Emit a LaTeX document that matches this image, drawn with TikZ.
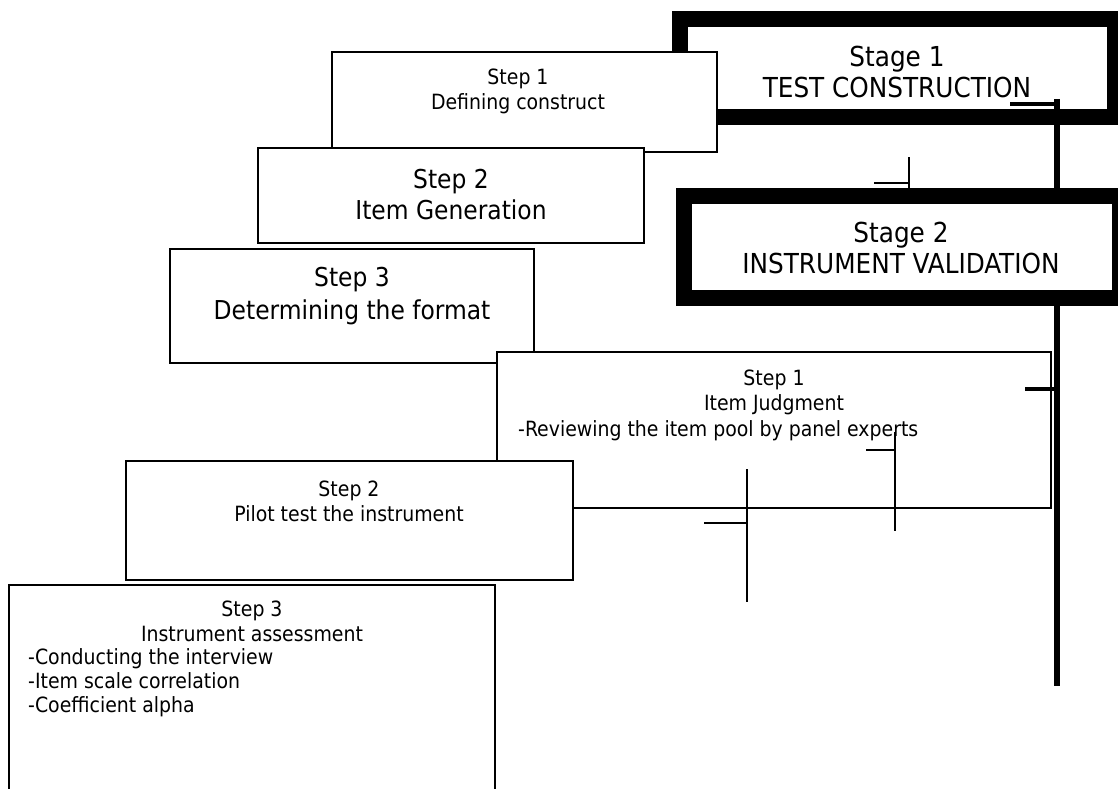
\documentclass[tikz,border=0pt]{standalone}
\usepackage{fontspec}
\setmainfont{DejaVu Sans Condensed}
\begin{document}
\begin{tikzpicture}[x=1pt,y=-1pt,
  box/.style={draw, fill=white, line width=2pt, inner sep=0pt, outer sep=0pt, rectangle},
  stagebox/.style={draw, fill=white, line width=16pt, inner sep=0pt, outer sep=0pt, rectangle},
  bigtxt/.style={font=\fontsize{26}{31}\selectfont, align=center, inner sep=0pt},
  stagetxt/.style={font=\fontsize{27.5}{31.5}\selectfont, align=center, inner sep=0pt},
  smalltxt/.style={font=\fontsize{21}{25}\selectfont, align=center, inner sep=0pt},
  leftlist/.style={font=\fontsize{21}{24}\selectfont, align=left, inner sep=0pt, anchor=west},
  thinline/.style={line width=1.8pt},
  thickline/.style={line width=6pt},
  tickline/.style={line width=4.5pt}]
\useasboundingbox (0,0) rectangle (1118,789);

% Stage 1
\node[stagebox, minimum width=435pt, minimum height=97.5pt] (st1) at (897.5,68.25) {};
\node[stagetxt] (st1t) at (897,72) {Stage 1\\TEST CONSTRUCTION};

% thick trunk
\coordinate (vtop) at (1057,99);
\coordinate (vbot) at (1057,686);
\draw[thickline] (vtop) -- (vbot);
\coordinate (h1) at (1010,104);
\draw[line width=4pt] (h1) -- (h1 -| vtop);

% small fragment above stage 2
\coordinate (f1a) at (909,157);
\coordinate (f1b) at (909,188);
\coordinate (f1c) at (874,183);
\draw[thinline] (f1a) -- (f1b);
\draw[thinline] (f1c) -- (f1c -| f1a);

% Stage 2
\node[stagebox, minimum width=436pt, minimum height=101.5pt] (st2) at (902,246.75) {};
\node[stagetxt] (st2t) at (901,248) {Stage 2\\INSTRUMENT VALIDATION};

% Stage 1 steps
\node[box, minimum width=385pt, minimum height=100pt] (s1) at (524.5,102) {};
\node[smalltxt] (s1t) at (518,91) {Step 1\\Defining construct};

\node[box, minimum width=386pt, minimum height=95pt] (s2) at (451,195.5) {};
\node[bigtxt] (s2t) at (451,195) {Step 2\\Item Generation};

\node[box, minimum width=364pt, minimum height=114pt] (s3) at (352,306) {};
\node[bigtxt, font=\fontsize{26}{33}\selectfont] (s3t) at (352,296) {Step 3\\Determining the format};

% Stage 2 steps
\node[box, minimum width=554pt, minimum height=156pt] (j) at (774,430) {};
\node[smalltxt] (jt) at (774,392) {Step 1\\Item Judgment};
\node[leftlist] (jl) at (518,431) {-Reviewing the item pool by panel experts};

\node[box, minimum width=447pt, minimum height=118.5pt] (p) at (349.5,520.25) {};
\node[smalltxt] (pt) at (349,501) {Step 2\\Pilot test the instrument};

\node[box, minimum width=486pt, minimum height=215pt] (a) at (252,692.5) {};
\node[smalltxt] (at1) at (252,621) {Step 3\\Instrument assessment};
\node[leftlist] (al) at (28,683) {-Conducting the interview\\-Item scale correlation\\-Coefficient alpha};

% fragments
\coordinate (f2a) at (747,469);
\coordinate (f2b) at (747,602);
\coordinate (f2c) at (704,523);
\draw[thinline] (f2a) -- (f2b);
\draw[thinline] (f2c) -- (f2c -| f2a);

\coordinate (f3a) at (895,432);
\coordinate (f3b) at (895,531);
\coordinate (f3c) at (866,450);
\draw[thinline] (f3a) -- (f3b);
\draw[thinline] (f3c) -- (f3c -| f3a);

\coordinate (h2) at (1025,389);
\draw[tickline] (h2) -- (h2 -| vtop);
\end{tikzpicture}
\end{document}
